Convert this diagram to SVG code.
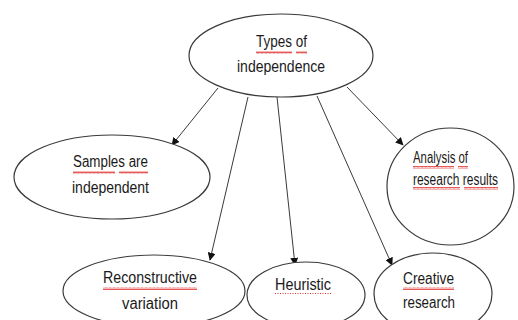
<svg xmlns="http://www.w3.org/2000/svg" width="518" height="320" viewBox="0 0 518 320">
<style>
  .node ellipse { fill: #ffffff; stroke: #3a3a3a; stroke-width: 1.2; }
  .node text { font-family: "Liberation Sans", Arial, sans-serif; font-size: 16px; fill: #1a1a1a; }
  .conn line { stroke: #3a3a3a; stroke-width: 1; marker-end: url(#arrow); }
  .wavy { fill: url(#wave); }
  .dots { stroke: #e03030; stroke-width: 1; stroke-dasharray: 1 1.5; }
</style>
<defs>
  <marker id="arrow" viewBox="0 0 10 10" refX="9" refY="5" markerWidth="8" markerHeight="8" markerUnits="userSpaceOnUse" orient="auto">
    <path d="M0,0 L10,5 L0,10 z" fill="#111"/>
  </marker>
  <pattern id="wave" patternUnits="userSpaceOnUse" width="4" height="3">
    <path d="M0,2.5 L1,0.5 L2,2.5 L3,0.5 L4,2.5" fill="none" stroke="#e03030" stroke-width="0.8"/>
  </pattern>
</defs>
<rect width="518" height="320" fill="#ffffff"/>

<g id="connectors" class="conn">
  <line x1="218" y1="88" x2="172" y2="145"/>
  <line x1="248" y1="97" x2="210" y2="260"/>
  <line x1="277" y1="97" x2="295" y2="265"/>
  <line x1="317" y1="96" x2="392" y2="265"/>
  <line x1="347" y1="87" x2="403" y2="145"/>
</g>

<g id="types" class="node">
  <ellipse cx="281" cy="55.5" rx="92" ry="41.5"/>
  <text x="256" y="47" textLength="51" lengthAdjust="spacingAndGlyphs">Types of</text>
  <text x="237" y="72" textLength="88" lengthAdjust="spacingAndGlyphs">independence</text>
  <rect class="wavy" x="256" y="51" width="36" height="3"/>
  <rect class="wavy" x="296" y="51" width="11" height="3"/>
</g>

<g id="samples" class="node">
  <ellipse cx="112" cy="177" rx="98" ry="42"/>
  <text x="73" y="167" textLength="75" lengthAdjust="spacingAndGlyphs">Samples are</text>
  <text x="72" y="193" textLength="77" lengthAdjust="spacingAndGlyphs">independent</text>
  <rect class="wavy" x="73" y="171" width="42" height="3"/>
  <rect class="wavy" x="119" y="171" width="29" height="3"/>
</g>

<g id="analysis" class="node">
  <ellipse cx="450.5" cy="186.5" rx="63.5" ry="58.5"/>
  <text x="413" y="163" textLength="55" lengthAdjust="spacingAndGlyphs">Analysis of</text>
  <text x="413" y="185" textLength="85" lengthAdjust="spacingAndGlyphs">research results</text>
  <rect class="wavy" x="413" y="166" width="41" height="3"/>
  <rect class="wavy" x="458" y="166" width="10" height="3"/>
  <rect class="wavy" x="413" y="187" width="47" height="3"/>
  <rect class="wavy" x="464" y="187" width="34" height="3"/>
</g>

<g id="reconstructive" class="node">
  <ellipse cx="154" cy="291" rx="91" ry="36"/>
  <text x="103" y="283" textLength="94" lengthAdjust="spacingAndGlyphs">Reconstructive</text>
  <text x="122" y="309" textLength="56" lengthAdjust="spacingAndGlyphs">variation</text>
  <rect class="wavy" x="103" y="287" width="94" height="3"/>
</g>

<g id="heuristic" class="node">
  <ellipse cx="306" cy="295" rx="59" ry="33"/>
  <text x="275" y="290" textLength="56" lengthAdjust="spacingAndGlyphs">Heuristic</text>
  <line class="dots" x1="275" y1="293.5" x2="331" y2="293.5"/>
</g>

<g id="creative" class="node">
  <ellipse cx="433" cy="294" rx="59" ry="41"/>
  <text x="403" y="284" textLength="51" lengthAdjust="spacingAndGlyphs">Creative</text>
  <text x="403" y="308" textLength="52" lengthAdjust="spacingAndGlyphs">research</text>
  <rect class="wavy" x="403" y="287" width="51" height="3"/>
</g>
</svg>
